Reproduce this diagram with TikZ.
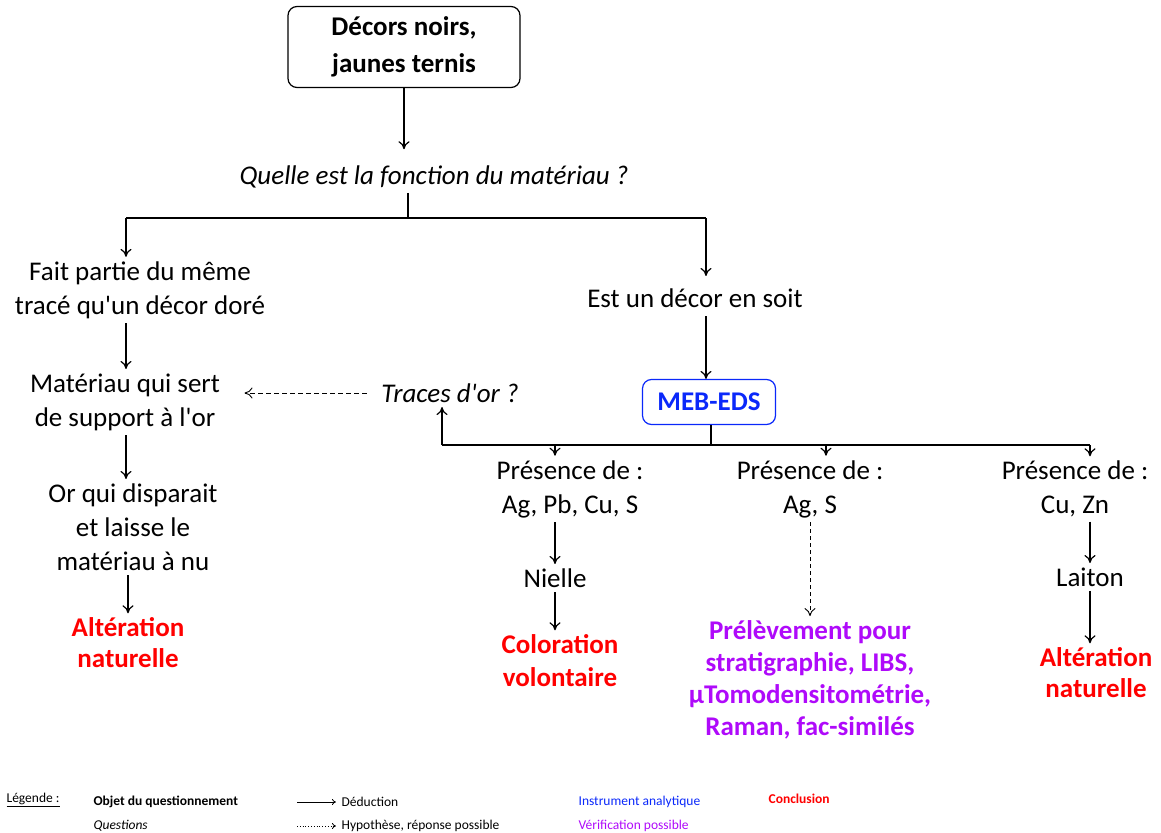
\documentclass[tikz,border=0pt]{standalone}
\usepackage{fontspec}
\setmainfont{Carlito}
\usetikzlibrary{arrows.meta}
\definecolor{conclred}{RGB}{255,0,0}
\definecolor{instrblue}{RGB}{10,40,250}
\definecolor{verifpurple}{RGB}{175,10,250}
\newcommand{\apos}{\textquotesingle}

\begin{document}
\begin{tikzpicture}[x=1pt,y=-1pt,>={To[length=8pt,width=11pt]},line width=1.2pt]
        \useasboundingbox (0,0) rectangle (1161,832);

        \begin{scope}[every node/.style={align=center,inner sep=4pt,font=\fontsize{27}{34}\selectfont}]
            \node[draw,rounded corners=9pt,minimum width=232pt,minimum height=81pt,font=\bfseries\fontsize{27}{37}\selectfont] (decor) at (404,47) {Décors noirs,\\jaunes ternis};
            \node[font=\itshape\fontsize{27}{34}\selectfont] (question) at (434,177) {Quelle est la fonction du matériau ?};

            \node (fait) at (140,290) {Fait partie du même\\tracé qu\apos un décor doré};
            \node (materiau) at (125,402) {Matériau qui sert\\de support à l\apos or};
            \node (orqui) at (133,527) {Or qui disparait\\et laisse le\\matériau à nu};
            \node[text=conclred,font=\bfseries\fontsize{27}{31}\selectfont] (alterA) at (128,643) {Altération\\naturelle};

            \node (soit) at (695,298) {Est un décor en soit};
            \node[draw=instrblue,text=instrblue,rounded corners=9pt,minimum width=133pt,minimum height=45pt,font=\bfseries\fontsize{27}{30}\selectfont] (meb) at (709,402) {MEB-EDS};
            \node[font=\itshape\fontsize{27}{34}\selectfont] (traces) at (450,393) {Traces d\apos or ?};

            \node (presA) at (570,489) {Présence de :\\Ag, Pb, Cu, S};
            \node (presB) at (810,489) {Présence de :\\Ag, S};
            \node (presC) at (1075,489) {Présence de :\\Cu, Zn};

            \node (nielle) at (555,578) {Nielle};
            \node[text=conclred,font=\bfseries\fontsize{27}{33}\selectfont] (coloration) at (560,661) {Coloration\\volontaire};
            \node[text=verifpurple,font=\bfseries\fontsize{27}{32}\selectfont] (prelev) at (810,680) {Prélèvement pour\\stratigraphie, LIBS,\\µTomodensitométrie,\\Raman, fac-similés};
            \node (laiton) at (1090,577) {Laiton};
            \node[text=conclred,font=\bfseries\fontsize{27}{31}\selectfont] (alterB) at (1096,673) {Altération\\naturelle};
        \end{scope}

        % fourches
        \coordinate (qfork) at (408,218);
        \coordinate (forkL) at (126,218);
        \coordinate (forkR) at (706,218);
        \coordinate (mfork) at (711,445);
        \coordinate (forkT) at (442,445);
        \coordinate (forkA) at (555,445);
        \coordinate (forkB) at (826,445);
        \coordinate (forkC) at (1090,445);

        \draw[->,shorten >=12pt] (decor.south) -- (decor.south |- question.north);
        \draw (qfork |- question.south) -- (qfork);
        \draw (forkL) -- (forkR);
        \draw[->] (forkL) -- (forkL |- fait.north);
        \draw[->,shorten >=8pt] (forkR) -- (forkR |- soit.north);

        \draw[->] (forkL |- fait.south) -- (forkL |- materiau.north);
        \draw[->] (forkL |- materiau.south) -- (forkL |- orqui.north);
        \draw[->] (alterA.north |- orqui.south) -- (alterA.north);

        \draw[->,shorten <=4pt] (soit.south -| forkR) -- (forkR |- meb.north);
        \draw[->,dashed,dash pattern=on 5pt off 3pt,line width=0.9pt,shorten <=10pt,shorten >=20pt] (traces.west) -- (traces.west -| materiau.east);

        \draw (mfork |- meb.south) -- (mfork);
        \draw (forkT) -- (forkC);
        \draw[->] (forkT) -- (forkT |- traces.south);
        \draw[->] (forkA) -- (forkA |- presA.north);
        \draw[->] (forkB) -- (forkB |- presB.north);
        \draw[->] (forkC) -- (forkC |- presC.north);

        \draw[->] (nielle.north |- presA.south) -- (nielle.north);
        \draw[->] (nielle.south) -- (nielle.south |- coloration.north);
        \draw[->,dashed,dash pattern=on 4pt off 3pt,line width=0.9pt] (presB.south) -- (prelev.north);
        \draw[->] (laiton.north |- presC.south) -- (laiton.north);
        \draw[->] (laiton.south) -- (laiton.south |- alterB.north);

        % legende
        \begin{scope}[every node/.style={anchor=west,inner sep=1pt,font=\fontsize{13.5}{16}\selectfont}]
            \node (lgTitle) at (5,800) {\underline{Légende :}};
            \node[font=\bfseries\fontsize{13.5}{16}\selectfont] (lgObjet) at (92,802) {Objet du questionnement};
            \node[font=\itshape\fontsize{13.5}{16}\selectfont] (lgQuest) at (92,826) {Questions};
            \node (lgDed) at (340,802) {Déduction};
            \node (lgHyp) at (340,826) {Hypothèse, réponse possible};
            \node[text=instrblue] (lgInstr) at (577,802) {Instrument analytique};
            \node[text=verifpurple] (lgVerif) at (577,826) {Vérification possible};
            \node[text=conclred,font=\bfseries\fontsize{13.5}{16}\selectfont] (lgConcl) at (767,799) {Conclusion};
        \end{scope}
        \coordinate (lgA) at (297,802);
        \coordinate (lgB) at (297,826);
        \draw[->,line width=0.8pt,shorten >=4pt,>={To[length=4pt,width=6pt]}] (lgA) -- (lgDed.west);
        \draw[->,dotted,line width=0.8pt,shorten >=4pt,>={To[length=4pt,width=6pt]}] (lgB) -- (lgHyp.west);

    \end{tikzpicture}
\end{document}
